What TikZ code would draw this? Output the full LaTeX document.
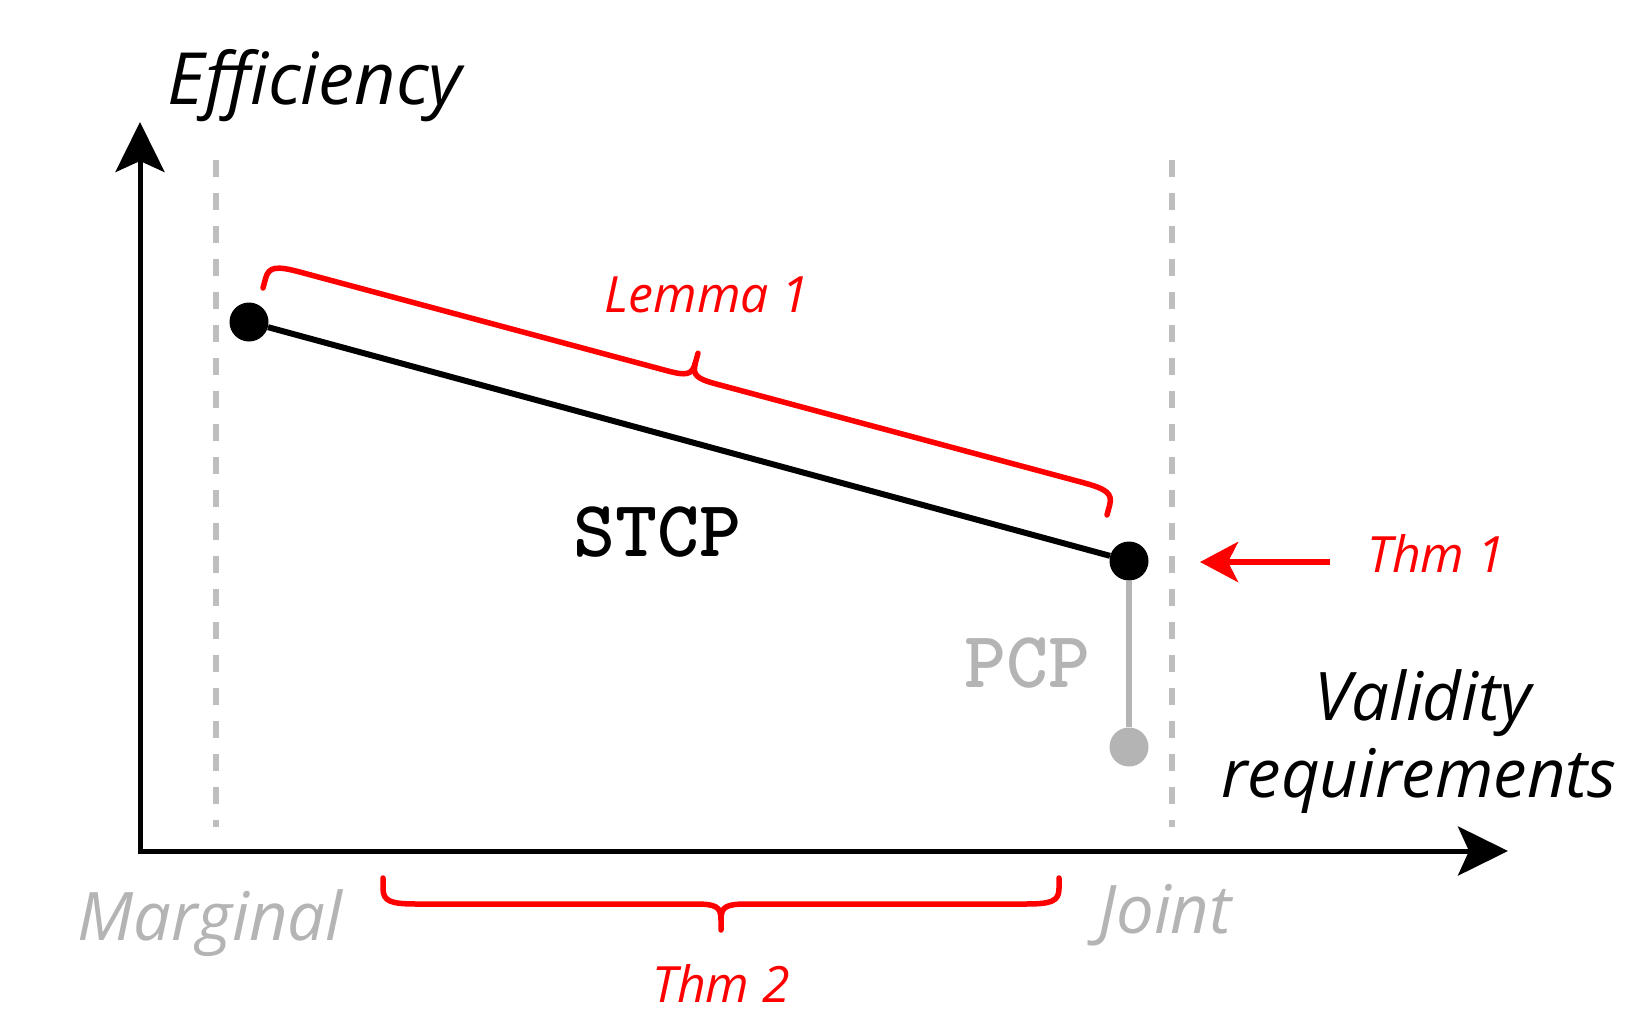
\documentclass[tikz,border=0pt]{standalone}
\usepackage{fontspec}
\setmainfont{Open Sans}
\usetikzlibrary{arrows.meta}
\definecolor{lightgrey}{RGB}{190,190,190}
\definecolor{midgrey}{RGB}{180,180,180}
\definecolor{brightred}{RGB}{255,0,0}
\tikzset{
  axis/.style={line width=5pt, black},
  axistip/.tip={Stealth[length=50pt, width=49pt, inset=11pt]},
  redtip/.tip={Stealth[length=38pt, width=40pt, inset=10pt]},
  guide/.style={line width=5.5pt, lightgrey, dash pattern=on 17pt off 16pt},
  dot/.style={circle, fill=black, minimum size=39pt, inner sep=0pt},
  greydot/.style={circle, fill=midgrey, minimum size=39pt, inner sep=0pt},
  bracered/.style={line width=5.5pt, brightred, line cap=round, line join=round},
  lbl/.style={inner sep=0pt, anchor=base, font=\itshape},
  mono/.style={inner sep=0pt, anchor=base, font=\fontsize{80}{90}\selectfont\ttfamily\bfseries},
}
% curly brace of length #1 and (signed) depth #2, along the local x axis
\newcommand\curlybrace[2]{%
  \draw[bracered]
    (0,0) -- (0,{0.2*(#2)})
    .. controls (0,{0.45*(#2)}) and ({0.15*abs(#2)},{0.5*(#2)}) .. ({0.65*abs(#2)},{0.5*(#2)})
    -- ({(#1)/2-0.5*abs(#2)},{0.5*(#2)})
    .. controls ({(#1)/2-0.1*abs(#2)},{0.5*(#2)}) and ({(#1)/2},{0.55*(#2)}) .. ({(#1)/2},{0.8*(#2)})
    -- ({(#1)/2},{#2});
  \draw[bracered]
    ({(#1)/2},{0.8*(#2)})
    .. controls ({(#1)/2},{0.55*(#2)}) and ({(#1)/2+0.1*abs(#2)},{0.5*(#2)}) .. ({(#1)/2+0.5*abs(#2)},{0.5*(#2)})
    -- ({(#1)-0.65*abs(#2)},{0.5*(#2)})
    .. controls ({(#1)-0.15*abs(#2)},{0.5*(#2)}) and ({#1},{0.45*(#2)}) .. ({#1},{0.2*(#2)})
    -- ({#1},0);
}
\begin{document}
\begin{tikzpicture}[x=1pt, y=-1pt]
\useasboundingbox (0,0) rectangle (1631,1018);

% axes
\coordinate (O) at (140,851);
\coordinate (ytip) at (140,122);
\coordinate (xtip) at (1508,851);
\draw[axis, axistip-axistip, line join=miter] (ytip) -- (O) -- (xtip);

% vertical guides
\coordinate (gl1) at (216,160);
\coordinate (gl2) at (216,827);
\coordinate (gr1) at (1172,160);
\coordinate (gr2) at (1172,827);
\draw[guide] (gl1) -- (gl2);
\draw[guide] (gr1) -- (gr2);

% points and segments
\node[dot] (p1) at (249,322) {};
\node[dot] (p2) at (1129,561) {};
\node[greydot] (p3) at (1129,747) {};
\draw[line width=6pt, black] (p1) -- (p2);
\draw[line width=6pt, midgrey] (p2) -- (p3);

% braces
\coordinate (la) at (263,288);
\coordinate (ta) at (383,878);
\begin{scope}[shift={(la)}, rotate=-15.05]
  \curlybrace{874}{-50}
\end{scope}
\begin{scope}[shift={(ta)}]
  \curlybrace{676}{52}
\end{scope}

% theorem arrow
\coordinate (a1) at (1330,562);
\coordinate (a0) at (1200,562);
\draw[line width=6pt, brightred, -redtip] (a1) -- (a0);

% labels
\node[lbl, font=\fontsize{72}{86}\selectfont\itshape] (eff) at (315,104) {Efficiency};
\node[lbl, font=\fontsize{67}{80}\selectfont\itshape] (val) at (1423,720) {Validity};
\node[lbl, font=\fontsize{67}{80}\selectfont\itshape] (req) at (1419,797) {requirements};
\node[lbl, midgrey, font=\fontsize{67}{80}\selectfont\itshape] (marg) at (210,940) {Marginal};
\node[lbl, midgrey, font=\fontsize{67}{80}\selectfont\itshape] (joint) at (1165,933) {Joint};
\node[lbl, brightred, font=\fontsize{50}{60}\selectfont\itshape] (lem) at (707,312) {Lemma 1};
\node[lbl, brightred, font=\fontsize{50}{60}\selectfont\itshape] (thm1) at (1436,572) {Thm 1};
\node[lbl, brightred, font=\fontsize{50}{60}\selectfont\itshape] (thm2) at (721,1002) {Thm 2};
\node[mono, black] (stcp) at (657,556) {STCP};
\node[mono, midgrey] (pcp) at (1027,687) {PCP};
\end{tikzpicture}
\end{document}
